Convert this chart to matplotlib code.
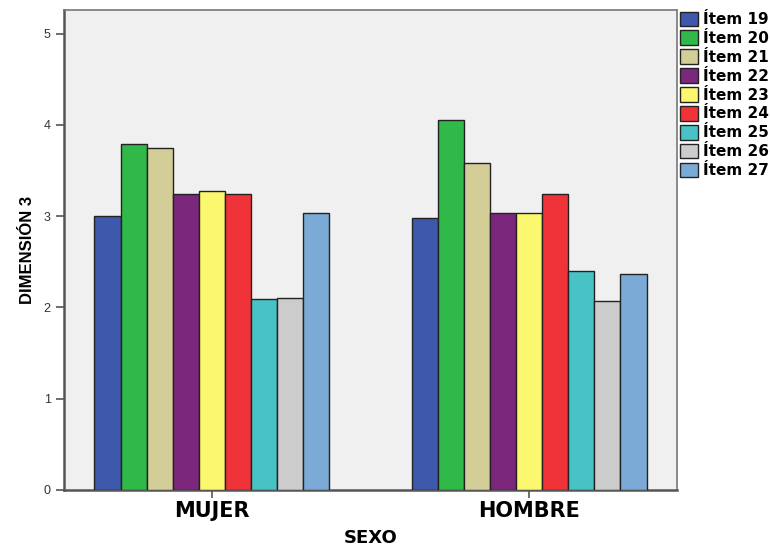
import numpy as np
import matplotlib
matplotlib.use("Agg")
import matplotlib.pyplot as plt

plt.rcParams['font.family'] = ['Liberation Sans', 'DejaVu Sans']

# datos
sexo = ["MUJER", "HOMBRE"]
items = ["Ítem 19", "Ítem 20", "Ítem 21", "Ítem 22", "Ítem 23",
         "Ítem 24", "Ítem 25", "Ítem 26", "Ítem 27"]
mujer = [3.00, 3.79, 3.75, 3.24, 3.28, 3.24, 2.09, 2.10, 3.03]
hombre = [2.98, 4.05, 3.58, 3.04, 3.03, 3.24, 2.40, 2.07, 2.37]
colores = ["#3E58AC", "#30B848", "#D3CE97", "#7B287C", "#FBF76E",
           "#EF3338", "#48C2C5", "#CCCCCC", "#7BAAD6"]

valores = np.array([mujer, hombre])  # filas: sexo, columnas: item

fig = plt.figure(figsize=(7.7, 5.46), dpi=100)
ax = fig.add_axes([64/770, 1-490/546, (677-64)/770, (490-10)/546])
ax.set_facecolor("#F0F0F0")

x = np.arange(len(sexo))
ancho = 0.082
n = len(items)
for i in range(n):
    pos = x + (i - (n-1)/2) * ancho
    ax.bar(pos, valores[:, i], width=ancho, color=colores[i],
           edgecolor="#222222", linewidth=1.0, label=items[i], zorder=3)

ax.set_xlim(-0.465, 1.465)
ax.set_ylim(0, 5.26)
ax.set_yticks([0, 1, 2, 3, 4, 5])
ax.set_xticks(x)
ax.set_xticklabels(sexo, fontsize=15, fontweight="bold", family="DejaVu Sans")
ax.tick_params(axis="y", labelsize=9, labelcolor="#333333", color="#555555",
               length=6, width=1.2)
ax.tick_params(axis="x", color="#555555", length=6, width=1.2, pad=2)

for s in ["left", "bottom"]:
    ax.spines[s].set_color("#555555")
    ax.spines[s].set_linewidth(1.8)
for s in ["top", "right"]:
    ax.spines[s].set_color("#777777")
    ax.spines[s].set_linewidth(1.2)

# etiquetas de los ejes
fig.text(370.5/770, 1-538/546, "SEXO", fontsize=13, fontweight="bold",
         family="DejaVu Sans", ha="center", va="center")
ax.set_ylabel("DIMENSIÓN 3", fontsize=12, fontweight="bold", labelpad=6,
              family=["Liberation Sans Narrow", "Liberation Sans"])

ax.legend(loc="upper left", bbox_to_anchor=(1.002, 1.0), frameon=False,
          prop={"size": 11, "weight": "bold", "family": "DejaVu Sans"},
          handlelength=1.2, handleheight=1.1, handletextpad=0.3,
          labelspacing=0.22, borderaxespad=0.0, borderpad=0.1)

fig.savefig("out.png", dpi=100)
